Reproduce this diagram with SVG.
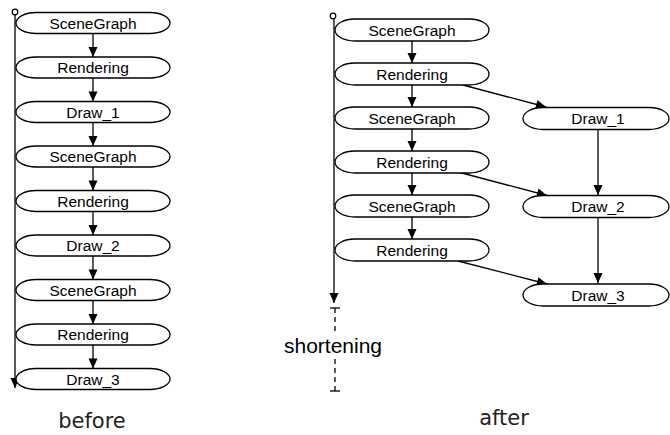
<svg xmlns="http://www.w3.org/2000/svg" width="670" height="435" viewBox="0 0 670 435">
<style>
.n rect{fill:#fff;stroke:#000;stroke-width:1.3}
.n text{font-family:"Liberation Sans",Arial,sans-serif;font-size:15.5px;text-anchor:middle;fill:#000}
.c line{stroke:#000;stroke-width:1.3;fill:none}
.lbl{font-family:"DejaVu Sans",sans-serif;font-size:21px;text-anchor:middle;fill:#222}
</style>
<defs>
<marker id="ah" viewBox="0 0 10 10" refX="10" refY="5" markerWidth="11" markerHeight="10" markerUnits="userSpaceOnUse" orient="auto">
<path d="M0,0.5 L10,5 L0,9.5 Z" fill="#000"/>
</marker>
</defs>

<g id="connectors" class="c">
<!-- before timeline -->
<circle cx="15" cy="12" r="2.8" fill="#fff" stroke="#000" stroke-width="1.2"/>
<line x1="15" y1="14.8" x2="15" y2="388" marker-end="url(#ah)"/>
<line x1="93" y1="33.5" x2="93" y2="57" marker-end="url(#ah)"/>
<line x1="93" y1="78" x2="93" y2="101.5" marker-end="url(#ah)"/>
<line x1="93" y1="122.5" x2="93" y2="146" marker-end="url(#ah)"/>
<line x1="93" y1="167" x2="93" y2="190.5" marker-end="url(#ah)"/>
<line x1="93" y1="211.5" x2="93" y2="235" marker-end="url(#ah)"/>
<line x1="93" y1="256" x2="93" y2="279.5" marker-end="url(#ah)"/>
<line x1="93" y1="300.5" x2="93" y2="324" marker-end="url(#ah)"/>
<line x1="93" y1="345" x2="93" y2="368.5" marker-end="url(#ah)"/>
<!-- after timeline -->
<circle cx="333" cy="16" r="2.8" fill="#fff" stroke="#000" stroke-width="1.2"/>
<line x1="334" y1="18.8" x2="334" y2="303" marker-end="url(#ah)"/>
<line x1="412" y1="41" x2="412" y2="63" marker-end="url(#ah)"/>
<line x1="412" y1="85" x2="412" y2="107" marker-end="url(#ah)"/>
<line x1="412" y1="129" x2="412" y2="151" marker-end="url(#ah)"/>
<line x1="412" y1="173" x2="412" y2="195" marker-end="url(#ah)"/>
<line x1="412" y1="217" x2="412" y2="239" marker-end="url(#ah)"/>
<line x1="463" y1="85" x2="546" y2="107" marker-end="url(#ah)"/>
<line x1="458" y1="172" x2="547" y2="195.5" marker-end="url(#ah)"/>
<line x1="458" y1="261" x2="547" y2="284" marker-end="url(#ah)"/>
<line x1="598" y1="129.5" x2="598" y2="195" marker-end="url(#ah)"/>
<line x1="598" y1="217.5" x2="598" y2="283" marker-end="url(#ah)"/>
<!-- shortening -->
<line x1="330" y1="308" x2="340" y2="308"/>
<line x1="330" y1="391" x2="340" y2="391"/>
<line x1="335" y1="308" x2="335" y2="335" stroke-dasharray="5,4"/>
<line x1="335" y1="359" x2="335" y2="391" stroke-dasharray="5,4"/>
</g>

<g id="b1" class="n"><rect x="16" y="12.5" width="154" height="21" rx="20" ry="10.5"/><text x="93" y="28.5">SceneGraph</text></g>
<g id="b2" class="n"><rect x="16" y="57" width="154" height="21" rx="20" ry="10.5"/><text x="93" y="73">Rendering</text></g>
<g id="b3" class="n"><rect x="16" y="101.5" width="154" height="21" rx="20" ry="10.5"/><text x="93" y="117.5">Draw_1</text></g>
<g id="b4" class="n"><rect x="16" y="146" width="154" height="21" rx="20" ry="10.5"/><text x="93" y="162">SceneGraph</text></g>
<g id="b5" class="n"><rect x="16" y="190.5" width="154" height="21" rx="20" ry="10.5"/><text x="93" y="206.5">Rendering</text></g>
<g id="b6" class="n"><rect x="16" y="235" width="154" height="21" rx="20" ry="10.5"/><text x="93" y="251">Draw_2</text></g>
<g id="b7" class="n"><rect x="16" y="279.5" width="154" height="21" rx="20" ry="10.5"/><text x="93" y="295.5">SceneGraph</text></g>
<g id="b8" class="n"><rect x="16" y="324" width="154" height="21" rx="20" ry="10.5"/><text x="93" y="340">Rendering</text></g>
<g id="b9" class="n"><rect x="16" y="368.5" width="154" height="21" rx="20" ry="10.5"/><text x="93" y="384.5">Draw_3</text></g>

<g id="a1" class="n"><rect x="335" y="19" width="154" height="22" rx="20" ry="11"/><text x="412" y="35.5">SceneGraph</text></g>
<g id="a2" class="n"><rect x="335" y="63" width="154" height="22" rx="20" ry="11"/><text x="412" y="79.5">Rendering</text></g>
<g id="a3" class="n"><rect x="335" y="107" width="154" height="22" rx="20" ry="11"/><text x="412" y="123.5">SceneGraph</text></g>
<g id="a4" class="n"><rect x="335" y="151" width="154" height="22" rx="20" ry="11"/><text x="412" y="167.5">Rendering</text></g>
<g id="a5" class="n"><rect x="335" y="195" width="154" height="22" rx="20" ry="11"/><text x="412" y="211.5">SceneGraph</text></g>
<g id="a6" class="n"><rect x="335" y="239" width="154" height="22" rx="20" ry="11"/><text x="412" y="255.5">Rendering</text></g>
<g id="d1" class="n"><rect x="523" y="107.5" width="146" height="22" rx="20" ry="11"/><text x="598" y="124">Draw_1</text></g>
<g id="d2" class="n"><rect x="523" y="195.5" width="146" height="22" rx="20" ry="11"/><text x="598" y="212">Draw_2</text></g>
<g id="d3" class="n"><rect x="523" y="284" width="146" height="22" rx="20" ry="11"/><text x="598" y="300.5">Draw_3</text></g>

<g id="labels">
<text x="333" y="353" font-family="Liberation Sans,Arial,sans-serif" font-size="21" text-anchor="middle" fill="#000">shortening</text>
<text class="lbl" x="92" y="428">before</text>
<text class="lbl" x="504" y="425">after</text>
</g>
</svg>
